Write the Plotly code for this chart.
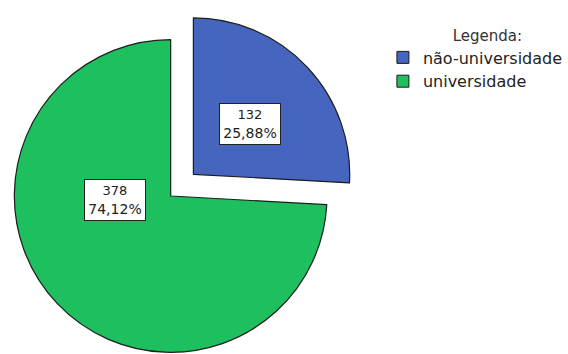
import numpy as np
import plotly.graph_objects as go

# Data
categories = ["não-universidade", "universidade"]
counts = [132, 378]
slice_colors = ["#4565BF", "#1DBF5E"]

W, H = 568, 354
R = 158                 # pie radius in px
CX, CY = 172.5, 196.0   # centre of the main pie in px
PULL = 0.2              # explode distance for the first slice (fraction of R)
EDGE = "#1c1c1c"
CLEAR = "rgba(0,0,0,0)"

total = sum(counts)
fractions = [c / total for c in counts]
pct_text = [f"{100 * f:.2f}".replace(".", ",") + "%" for f in fractions]

# mid angle of the exploded slice (clockwise from 12 o'clock)
mid = 2 * np.pi * fractions[0] / 2
bx = CX + PULL * R * np.sin(mid)
by = CY - PULL * R * np.cos(mid)


def domain_for(cx, cy, r):
    return dict(x=[(cx - r) / W, (cx + r) / W],
                y=[1 - (cy + r) / H, 1 - (cy - r) / H])


common = dict(labels=categories, values=counts, sort=False,
              direction="clockwise", rotation=0, textinfo="none")

fig = go.Figure()

# legend carrier (sub-pixel pie, hidden under the main pie)
fig.add_trace(go.Pie(
    **common,
    marker=dict(colors=slice_colors, line=dict(color=EDGE, width=1)),
    domain=dict(x=[0.2, 0.2004], y=[0.4, 0.4006]),
    showlegend=True, hoverinfo="skip",
))

# main pie: second slice
fig.add_trace(go.Pie(
    **common,
    marker=dict(colors=[CLEAR, slice_colors[1]],
                line=dict(color=[CLEAR, EDGE], width=[0, 1.2])),
    domain=domain_for(CX, CY, R),
    showlegend=False, hoverinfo="label+value+percent",
))

# exploded first slice
fig.add_trace(go.Pie(
    **common,
    marker=dict(colors=[slice_colors[0], CLEAR],
                line=dict(color=[EDGE, CLEAR], width=[1.2, 0])),
    domain=domain_for(bx, by, R),
    showlegend=False, hoverinfo="label+value+percent",
))

# value labels in boxes
label_pos = [(253, 124), (116, 200)]
for (px, py), n, p in zip(label_pos, counts, pct_text):
    fig.add_annotation(
        x=px / W, y=1 - py / H, xref="paper", yref="paper",
        xanchor="center", yanchor="middle",
        text=f"<span style='font-size:13px'>{n}</span><br>{p}",
        showarrow=False, align="center",
        font=dict(family="DejaVu Sans", size=14, color="#222222"),
        bgcolor="white", bordercolor="#222222", borderwidth=1, borderpad=1,
        width=58, height=38,
    )

fig.update_layout(
    width=W, height=H,
    margin=dict(l=0, r=0, t=0, b=0),
    paper_bgcolor="white", plot_bgcolor="white",
    font=dict(family="DejaVu Sans", color="#222222"),
    legend=dict(
        title=dict(text="&nbsp;&nbsp;&nbsp;&nbsp;&nbsp;Legenda:", side="top center",
                   font=dict(family="DejaVu Sans", size=15, color="#333333")),
        font=dict(family="DejaVu Sans", size=16, color="#222222"),
        x=387 / W, y=1 - 21 / H, xanchor="left", yanchor="top",
        bgcolor="rgba(0,0,0,0)", borderwidth=0,
    ),
)

fig.write_html("out.html")
